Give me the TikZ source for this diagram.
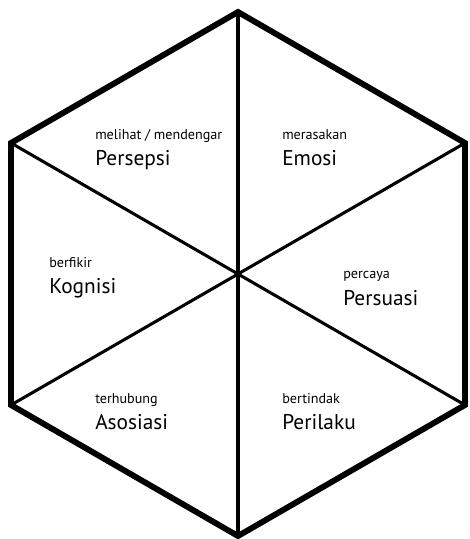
\documentclass[tikz,border=0pt]{standalone}
\usepackage{fontspec}
\setmainfont{PT Sans}
\begin{document}
\begin{tikzpicture}[x=0.75pt,y=-0.75pt,
  rim/.style={line width=4.4pt,line join=miter},
  spoke/.style={line width=2.3pt},
  small/.style={anchor=base west,inner sep=0pt,font=\fontsize{10.6}{12}\selectfont},
  big/.style={anchor=base west,inner sep=0pt,font=\fontsize{16}{19}\selectfont}]
\useasboundingbox (0,0) rectangle (469,539);
\coordinate (c) at (238,274);
\coordinate (t) at (238,12);
\coordinate (ur) at (465,143);
\coordinate (lr) at (465,405);
\coordinate (b) at (238,536);
\coordinate (ll) at (11,405);
\coordinate (ul) at (11,143);
\foreach \v in {t,ur,lr,b,ll,ul} \draw[spoke] (c) -- (\v);
\draw[rim] (t) -- (ur) -- (lr) -- (b) -- (ll) -- (ul) -- cycle;
\node[small] (s1) at (95,139) {melihat / mendengar};
\node[big] (b1) at (95,165) {Persepsi};
\node[small] (s2) at (282,139) {merasakan};
\node[big] (b2) at (282,165) {Emosi};
\node[small] (s3) at (49,267) {berfikir};
\node[big] (b3) at (49,293) {Kognisi};
\node[small] (s4) at (343,278) {percaya};
\node[big] (b4) at (343,305) {Persuasi};
\node[small] (s5) at (95,403) {terhubung};
\node[big] (b5) at (95,429) {Asosiasi};
\node[small] (s6) at (282,403) {bertindak};
\node[big] (b6) at (282,429) {Perilaku};
\end{tikzpicture}
\end{document}
